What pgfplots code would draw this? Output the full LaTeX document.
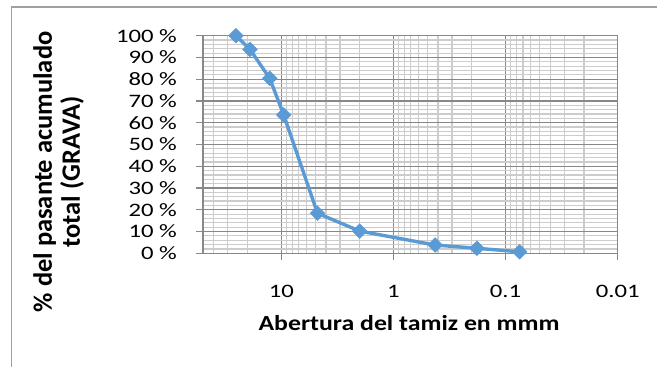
\documentclass[border=0pt]{standalone}
\usepackage{pgfplots}
\pgfplotsset{compat=1.18}
\usepackage{fontspec}
\setmainfont{Carlito}
\newfontfamily\tickfont{Carlito}[FakeStretch=1.3]
\newfontfamily\xlabfont{Carlito}[FakeStretch=1.2]
\definecolor{majgrid}{HTML}{888888}
\definecolor{mingrid}{HTML}{CCCCCC}
\definecolor{serie}{HTML}{5B9BD5}
\definecolor{framec}{HTML}{A0A0A0}
\begin{document}
\begin{tikzpicture}
\path[use as bounding box] (0pt,0pt) rectangle (657pt,367pt);
\draw[framec, line width=1.2pt] (11.5pt,0pt) -- (11.5pt,360pt) -- (657pt,360pt);
\begin{axis}[
  at={(203pt,113.7pt)}, anchor=south west,
  scale only axis, width=414.7pt, height=217.6pt,
  xmode=log, x dir=reverse, xmin=0.01, xmax=50,
  ymin=0, ymax=100,
  xtick={0.01,0.1,1,10}, xticklabels={0.01,0.1,1,10},
  minor xtick={0.02,0.03,0.04,0.05,0.06,0.07,0.08,0.09,0.2,0.3,0.4,0.5,0.6,0.7,0.8,0.9,2,3,4,5,6,7,8,9,20,30,40},
  ytick={0,10,...,100},
  yticklabels={0 \%,10 \%,20 \%,30 \%,40 \%,50 \%,60 \%,70 \%,80 \%,90 \%,100 \%},
  minor y tick num=4,
  grid=both,
  major grid style={majgrid, line width=1.3pt},
  minor grid style={mingrid, line width=1.2pt},
  axis line style={majgrid, line width=1.3pt},
  tick align=outside, xtick pos=left, ytick pos=left,
  major tick length=7pt, minor tick length=0pt,
  tick style={majgrid, line width=1.3pt},
  xticklabel style={font=\tickfont\fontsize{19}{19}\selectfont, inner sep=0pt, anchor=north},
  yticklabel style={font=\tickfont\fontsize{19}{19}\selectfont, inner sep=0pt, anchor=east},
  xticklabel shift=25pt,
  yticklabel shift=19pt,
  xlabel={Abertura del tamiz en mmm},
  xlabel style={font=\xlabfont\bfseries\fontsize{21.5}{23}\selectfont, at={(axis description cs:0.497,-0.32)}, anchor=center},
  ylabel={\% del pasante acumulado\\total (GRAVA)},
  ylabel style={font=\bfseries\fontsize{26.5}{28}\selectfont, align=center, at={(axis description cs:-0.348,0.374)}, anchor=center},
]
\addplot[serie, line width=3.4pt, mark=square*, mark size=5.2pt,
  mark options={solid, fill=serie, draw=serie, line width=0.5pt, rotate=45}]
  coordinates {
  (25.4,100) (19.05,93.7) (12.7,80.4) (9.525,63.6) (4.76,18.4)
  (2.0,10.2) (0.425,3.8) (0.18,2.3) (0.075,0.7)
  };
\end{axis}
\end{tikzpicture}
\end{document}
